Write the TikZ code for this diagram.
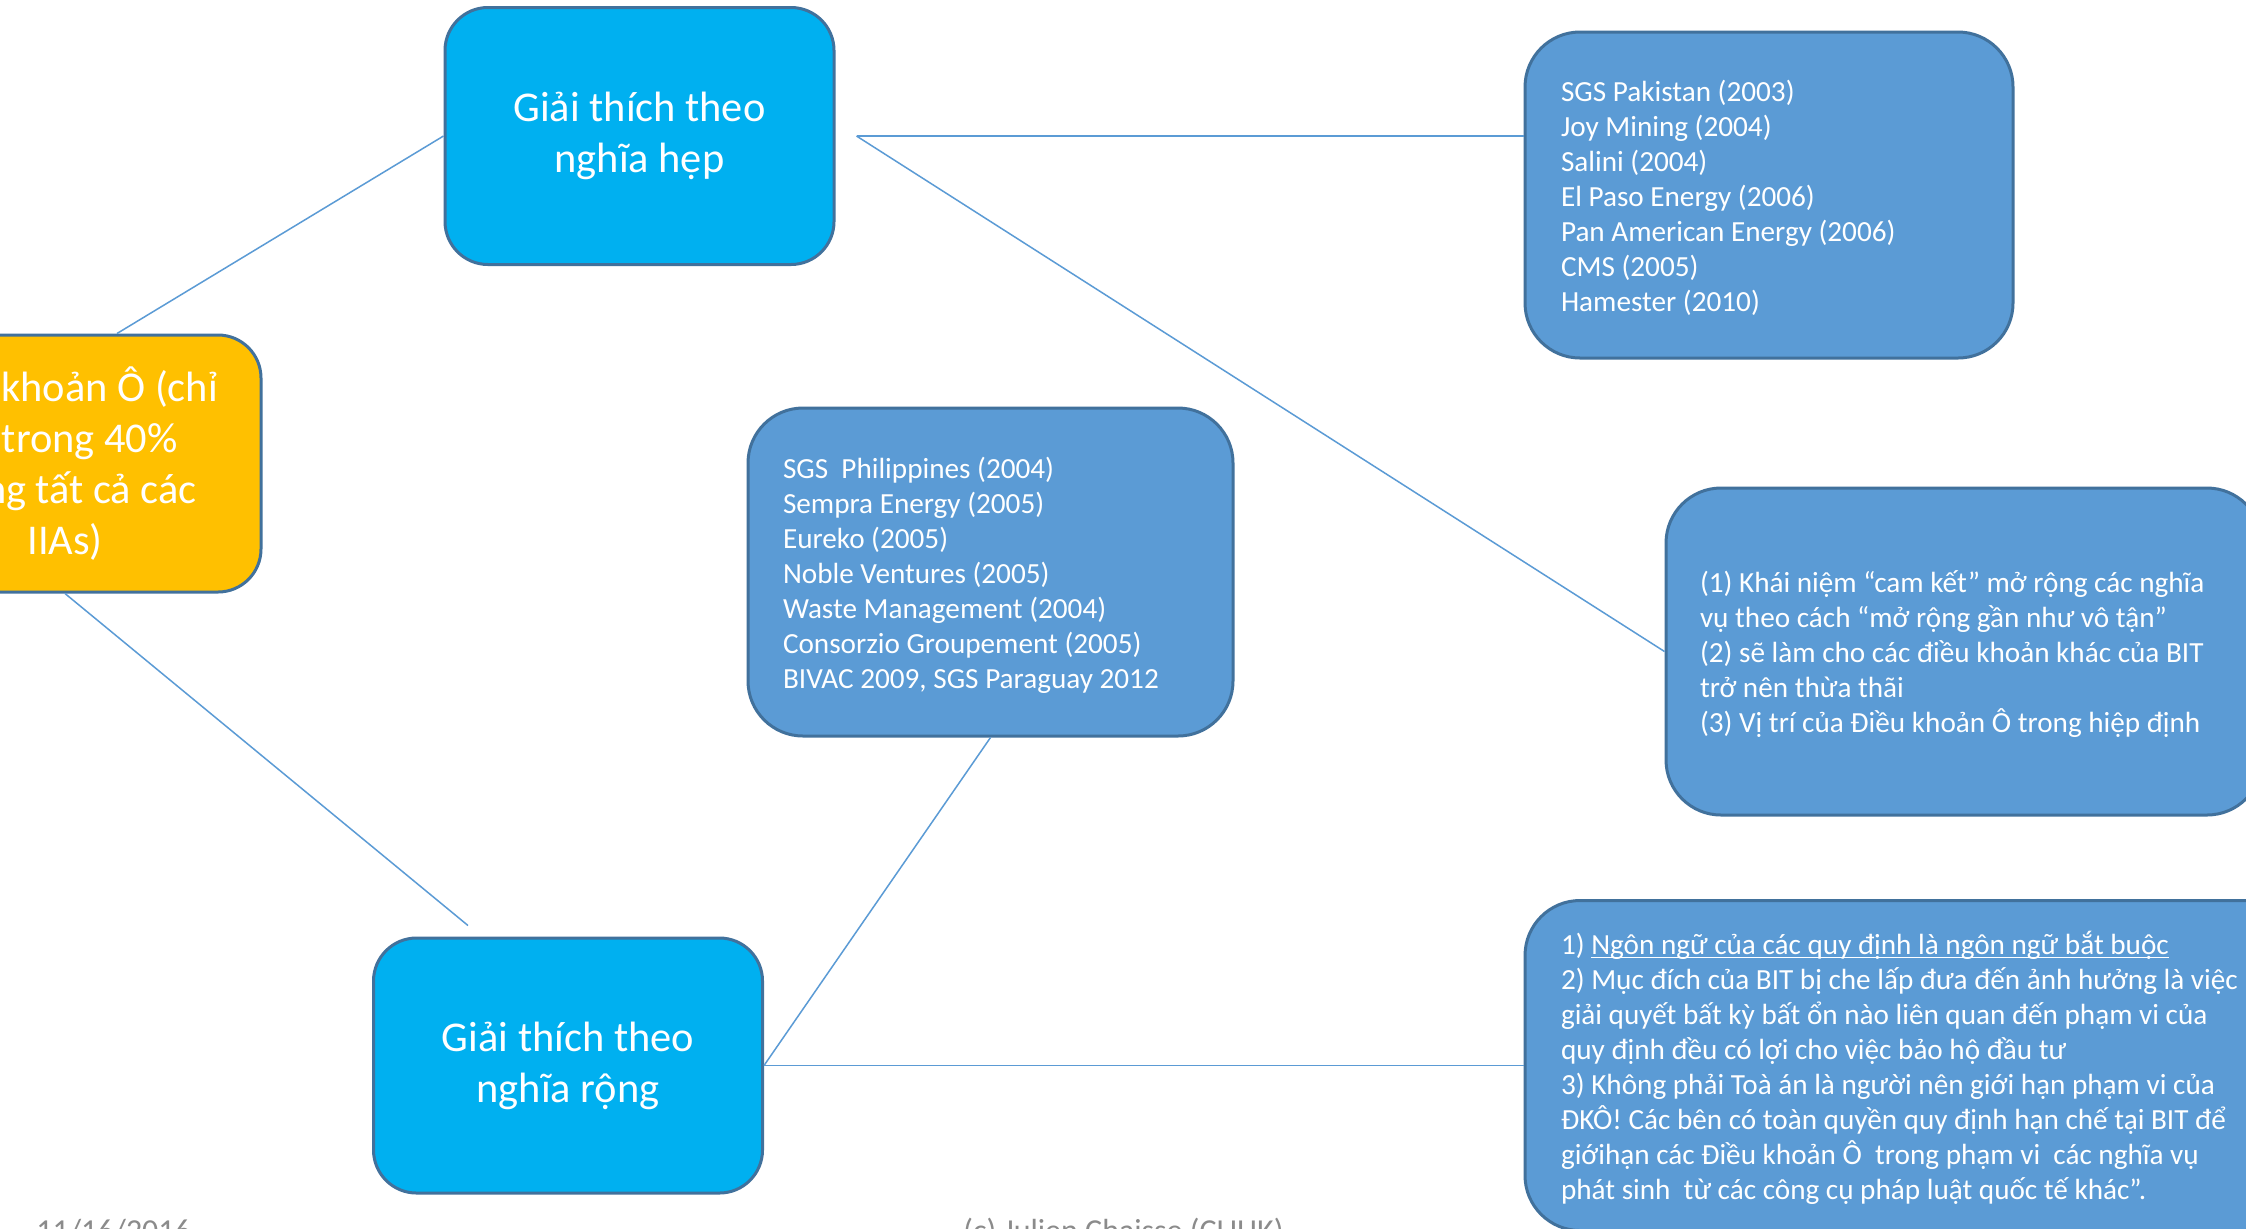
\documentclass[tikz,border=0pt]{standalone}
\usepackage{fontspec}
\setmainfont{Carlito}
\frenchspacing
\newsavebox\lineholder
\newcommand\ruledtext[1]{\sbox\lineholder{#1}\rlap{\rule[-2pt]{\wd\lineholder}{0.7pt}}\usebox\lineholder}
\definecolor{readcyan}{HTML}{00B0F0}
\definecolor{caseblue}{HTML}{5B9BD5}
\definecolor{edgeblue}{HTML}{41719C}
\definecolor{umbrellagold}{HTML}{FFC000}
\definecolor{footgrey}{HTML}{8B8B8B}

\begin{document}
\begin{tikzpicture}[x=0.5pt,y=-0.5pt,every node/.style={text=white,execute at begin node={\spaceskip=0pt\xspaceskip=0pt}},
  slideline/.style={execute at begin node={\spaceskip=0pt\xspaceskip=0pt\rule{0pt}{#1}}},
  readbox/.style={slideline=1.2em,fill=readcyan,draw=edgeblue,line width=1.5pt,rounded corners=21.5pt,minimum width=194.5pt,minimum height=128.5pt,align=center,font=\fontsize{21.2}{25.5}\selectfont},
  casebox/.style={slideline=0.95em,fill=caseblue,draw=edgeblue,line width=1.5pt,rounded corners=27.5pt,minimum height=164pt,align=left,inner xsep=17.5pt,font=\fontsize{14.6}{17.5}\selectfont},
  link/.style={draw=caseblue,line width=0.75pt},
  footnote/.style={text=footgrey,font=\fontsize{16}{19}\selectfont,anchor=base west,inner sep=0pt}]
\useasboundingbox (0,0) rectangle (2246,1228);
\clip (0,0) rectangle (2246,1228);
\fill[white] (0,0) rectangle (2246,1228);
\node[readbox] (narrow) at (639.5,136) {Giải thích theo\\nghĩa hẹp};
\node[readbox,minimum height=127.5pt] (wide) at (568,1065.5) {Giải thích theo\\nghĩa rộng};
\node[readbox,fill=umbrellagold,minimum width=196pt] (umbrella) at (65,463.5) {Điều khoản Ô (chỉ\\có trong 40\%\\trong tất cả các\\IIAs)};
\node[casebox,text width=208pt,inner xsep=18pt,minimum height=163pt] (narrowcases) at (1769,195) {SGS Pakistan (2003)\\Joy Mining (2004)\\Salini (2004)\\El Paso Energy (2006)\\Pan American Energy (2006)\\CMS (2005)\\Hamester (2010)};
\node[casebox,text width=207.5pt] (widecases) at (990.5,572) {SGS~~Philippines (2004)\\Sempra Energy (2005)\\Eureko (2005)\\Noble Ventures (2005)\\Waste Management (2004)\\Consorzio Groupement (2005)\\BIVAC 2009, SGS Paraguay 2012};
\node[casebox,text width=264pt,inner xsep=17pt,minimum height=163.5pt] (narrowreasons) at (1964,651.5) {(1) Khái niệm “cam kết” mở rộng các nghĩa\\vụ theo cách “mở rộng gần như vô tận”\\(2) sẽ làm cho các điều khoản khác của BIT\\trở nên thừa thãi\\(3) Vị trí của Điều khoản Ô trong hiệp định};
\node[casebox,text width=351.5pt,inner xsep=18pt,minimum height=165pt] (widereasons) at (1912.5,1065.5) {1) \ruledtext{Ngôn ngữ của các quy định là ngôn ngữ bắt buộc}\\2) Mục đích của BIT bị che lấp đưa đến ảnh hưởng là việc\\giải quyết bất kỳ bất ổn nào liên quan đến phạm vi của\\quy định đều có lợi cho việc bảo hộ đầu tư\\3) Không phải Toà án là người nên giới hạn phạm vi của\\ĐKÔ! Các bên có toàn quyền quy định hạn chế tại BIT để\\giớihạn các Điều khoản Ô~~trong phạm vi~~các nghĩa vụ\\phát sinh~~từ các công cụ pháp luật quốc tế khác”.};
\coordinate (fork) at ([shift={(21,0)}]narrow.east);
\draw[link] ([shift={(52,0)}]umbrella.north) -- (narrow.west);
\draw[link] (umbrella.south) -- ([shift={(96,-11)}]wide.north west);
\draw[link] (fork) -- ([shift={(0,-59)}]narrowcases.west);
\draw[link] (fork) -- (narrowreasons.west);
\draw[link] (wide.east) -- (widereasons.west);
\draw[link] (wide.east) -- (widecases.south);
\node[footnote] (date) at (36,1241) {11/16/2016};
\node[footnote] (credit) at (963,1241) {(c) Julien Chaisse (CUHK)};
\end{tikzpicture}
\end{document}
